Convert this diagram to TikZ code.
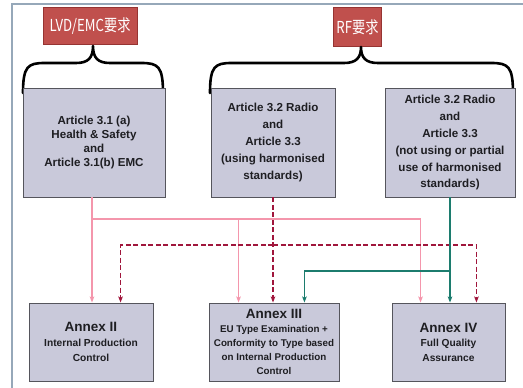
\documentclass[tikz,border=0pt]{standalone}
\usepackage{fontspec}
\setmainfont{Liberation Sans}
\newfontfamily\cjk{Noto Sans CJK SC}
\usetikzlibrary{arrows.meta}

\definecolor{boxfill}{RGB}{201,201,218}
\definecolor{boxedge}{RGB}{85,85,92}
\definecolor{tagfill}{RGB}{192,80,77}
\definecolor{tagedge}{RGB}{150,52,50}
\definecolor{framecol}{RGB}{150,168,185}
\definecolor{pinkline}{RGB}{244,150,172}
\definecolor{wineline}{RGB}{160,22,60}
\definecolor{tealline}{RGB}{28,124,110}
\definecolor{textcol}{RGB}{30,30,34}

% condensed label text for the requirement tags
\newcommand{\tagtext}[1]{\scalebox{0.8}[1]{\cjk\fontsize{16.5}{18}\selectfont #1}}

\begin{document}
\begin{tikzpicture}[x=1pt,y=-1pt,
  tag/.style={draw=tagedge,fill=tagfill,text=white,line width=0.8pt,inner sep=0pt},
  article/.style={draw=boxedge,fill=boxfill,line width=0.9pt,align=center,inner sep=0pt,
    text=textcol,font=\bfseries\fontsize{11.6}{17}\selectfont},
  annex/.style={draw=boxedge,fill=boxfill,line width=0.9pt,align=center,inner sep=0pt,
    text=textcol,font=\bfseries\fontsize{10.2}{14.5}\selectfont,minimum height=78},
  bracket/.style={line width=2.6pt,line cap=round,line join=round},
  tip/.style={-{Stealth[length=6pt,width=4.5pt,inset=1.2pt]}},
  pinkflow/.style={draw=pinkline,line width=1.6pt},
  wineflow/.style={draw=wineline,line width=1.6pt,dash pattern=on 5pt off 2.5pt},
  tealflow/.style={draw=tealline,line width=1.6pt},
]
\useasboundingbox (0,0) rectangle (523,388);

% frame
\draw[framecol,line width=1.2pt] (12,388) -- (12,4) -- (523,4);

% requirement tags
\node[tag,minimum width=94,minimum height=37] (lvd) at (90,26) {\tagtext{LVD/EMC要求}};
\node[tag,minimum width=48,minimum height=39] (rf) at (357.5,27) {\tagtext{RF要求}};

% braces under the tags
\draw[bracket] (23,93) .. controls (23,66) and (28,63) .. (45,63) -- (76,63)
  .. controls (88,63) and (93,58) .. (93,46)
  .. controls (93,58) and (98,63) .. (110,63) -- (141,63)
  .. controls (158,63) and (163,66) .. (163,93);
\draw[bracket] (210,93) .. controls (210,66) and (215,63) .. (232,63) -- (344,63)
  .. controls (356,63) and (361,58) .. (361,47)
  .. controls (361,58) and (366,63) .. (378,63) -- (491,63)
  .. controls (508,63) and (513,66) .. (513,93);

% article boxes
\node[article,minimum width=142,minimum height=109,font=\bfseries\fontsize{11.6}{14.2}\selectfont]
  (b1) at (94,142.5) {Article 3.1 (a)\\Health \& Safety\\and\\Article 3.1(b) EMC};
\node[article,minimum width=124,minimum height=109]
  (b2) at (273,142.5) {Article 3.2 Radio\\and\\Article 3.3\\(using harmonised\\standards)};
\node[article,minimum width=130,minimum height=109]
  (b3) at (450,142.5) {Article 3.2 Radio\\and\\Article 3.3\\(not using or partial\\use of harmonised\\standards)};

% annex boxes
\node[annex,minimum width=124,font=\bfseries\fontsize{10.2}{15}\selectfont] (a2) at (91,342)
  {{\fontsize{13.5}{15}\selectfont Annex II}\\Internal Production\\Control};
\node[annex,minimum width=130,font=\bfseries\fontsize{9.8}{14}\selectfont] (a3) at (274,342)
  {{\fontsize{13.5}{15}\selectfont Annex III}\\EU Type Examination +\\Conformity to Type based\\on Internal Production\\Control};
\node[annex,minimum width=113] (a4) at (448.5,342)
  {{\fontsize{13.5}{15}\selectfont Annex IV}\\Full Quality\\Assurance};

% junction points of the routed connectors
\coordinate (pj) at ([xshift=-2pt]b1.south |- 0,219);
\coordinate (wj) at (b2.south |- 0,245);
\coordinate (tj) at (b3.south |- 0,271);

% Article 3.1 routes (solid pink)
\draw[pinkflow,tip] ([xshift=-2pt]b1.south) -- ([xshift=-2pt]b1.south |- a2.north);
\draw[pinkflow,tip] (pj) -| ([xshift=30pt]a3.north west);
\draw[pinkflow,tip] (pj) -| ([xshift=29pt]a4.north west);

% harmonised-standard routes (dashed wine)
\draw[wineflow,tip] (b2.south) -- (b2.south |- a3.north);
\draw[wineflow,tip] (wj) -| ([xshift=92pt]a2.north west);
\draw[wineflow,tip] (wj) -| ([xshift=-29pt]a4.north east);

% non-harmonised routes (solid teal)
\draw[tealflow,tip] (b3.south) -- (b3.south |- a4.north);
\draw[tealflow,tip] (tj) -| ([xshift=-35pt]a3.north east);
\end{tikzpicture}
\end{document}
